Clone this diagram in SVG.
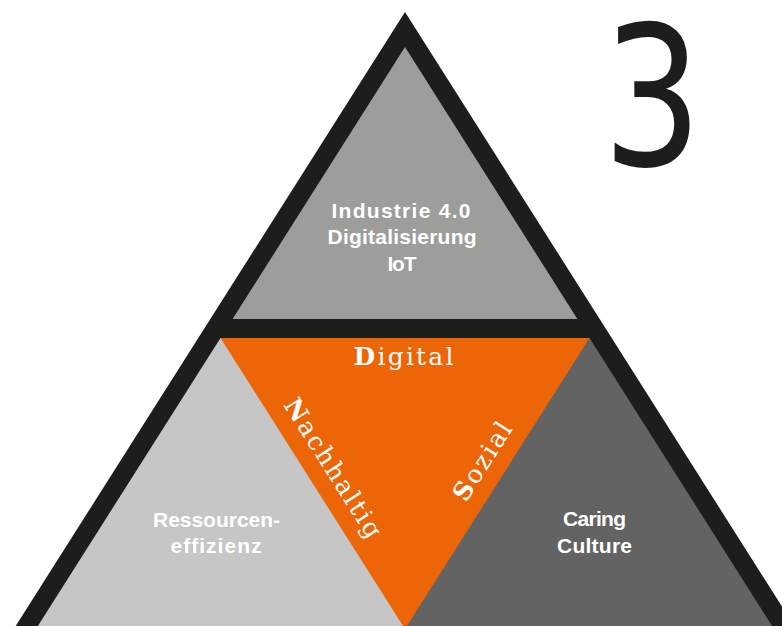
<svg xmlns="http://www.w3.org/2000/svg" width="782" height="626" viewBox="0 0 782 626">
<style>
.lbl{font-family:"Liberation Sans",Arial,sans-serif;font-weight:bold;font-size:21px;fill:#ffffff;text-anchor:middle}
.ser{font-family:"DejaVu Serif","Liberation Serif",serif;font-size:25px;fill:#ffffff}
.b{font-weight:bold}
</style>
<rect width="782" height="626" fill="#ffffff"/>
<g id="frame">
<polygon points="405,12 6.8,640 803.2,640" fill="#1d1d1b"/>
</g>
<g id="top">
<polygon points="405,47 232.6,319 577.4,319" fill="#9d9d9c"/>
<text class="lbl" x="401" y="218" textLength="139" lengthAdjust="spacing">Industrie 4.0</text>
<text class="lbl" x="402" y="244" textLength="149" lengthAdjust="spacing">Digitalisierung</text>
<text class="lbl" x="402" y="270.5" textLength="29" lengthAdjust="spacing">IoT</text>
</g>
<g id="left">
<polygon points="220.5,338 405,338 405,640 29,640" fill="#c6c6c6"/>
<text class="lbl" x="216.5" y="527" textLength="127" lengthAdjust="spacing">Ressourcen-</text>
<text class="lbl" x="216" y="553" textLength="91" lengthAdjust="spacing">effizienz</text>
</g>
<g id="right">
<polygon points="405,338 589.5,338 781,640 405,640" fill="#646363"/>
<text class="lbl" x="594.5" y="526" textLength="63" lengthAdjust="spacing">Caring</text>
<text class="lbl" x="594.5" y="553" textLength="75" lengthAdjust="spacing">Culture</text>
</g>
<g id="center">
<polygon points="220.5,338 589.5,338 405,629" fill="#ec6608"/>
<text class="ser" x="353.5" y="365" textLength="100" lengthAdjust="spacing"><tspan class="b">D</tspan>igital</text>
<text class="ser" transform="translate(283,405) rotate(57.6)" x="0" y="0" textLength="160" lengthAdjust="spacing"><tspan class="b">N</tspan>achhaltig</text>
<text class="ser" transform="translate(466,503) rotate(-57.6)" x="0" y="0" textLength="88" lengthAdjust="spacing"><tspan class="b">S</tspan>ozial</text>
</g>
<g id="number">
<text transform="translate(652.5,165) scale(0.8,1)" x="0" y="0" text-anchor="middle" font-family="DejaVu Sans, sans-serif" font-size="195" fill="#1d1d1b">3</text>
</g>
<g id="connectors"/>
</svg>
